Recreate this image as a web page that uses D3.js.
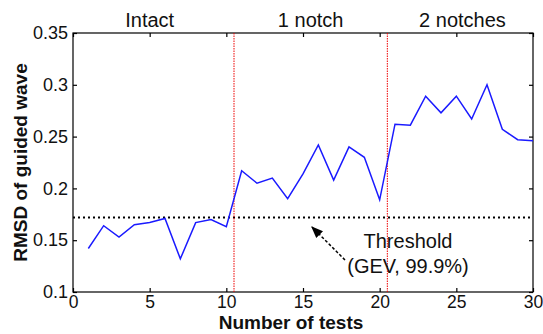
<!DOCTYPE html>
<html>
<head>
<meta charset="utf-8">
<title>RMSD of guided wave</title>
<script src="https://d3js.org/d3.v7.min.js"></script>
<style>
  body { margin: 0; background: #fff; }
  text { font-family: "Liberation Sans", Arial, sans-serif; fill: #111; }
</style>
</head>
<body>
<script>
var tests = d3.range(1, 31);
var rmsd = [0.142, 0.164, 0.153, 0.165, 0.167, 0.171, 0.132, 0.167, 0.170, 0.163,
            0.217, 0.205, 0.210, 0.190, 0.214, 0.242, 0.208, 0.240, 0.230, 0.189,
            0.262, 0.261, 0.289, 0.273, 0.289, 0.267, 0.300, 0.257, 0.247, 0.246];
var threshold = 0.172;
var splits = [10.5, 20.5];
var stages = [{name: "Intact", x: 5}, {name: "1 notch", x: 15.5}, {name: "2 notches", x: 25.4}];
var xTicks = [0, 5, 10, 15, 20, 25, 30];
var yTicks = [0.1, 0.15, 0.2, 0.25, 0.3, 0.35];

var width = 543, height = 334;
var margin = {left: 73, right: 10, top: 33, bottom: 42};

var svg = d3.select("body").append("svg")
    .attr("width", width)
    .attr("height", height);

var x = d3.scaleLinear().domain([0, 30]).range([margin.left, width - margin.right]);
var y = d3.scaleLinear().domain([0.1, 0.35]).range([height - margin.bottom, margin.top]);

// box
svg.append("rect")
    .attr("x", x(0)).attr("y", y(0.35))
    .attr("width", x(30) - x(0)).attr("height", y(0.1) - y(0.35))
    .attr("fill", "none").attr("stroke", "#000").attr("stroke-width", 1.2);

// axes, ticks inward
var fmt = function(d) { return d3.format("")(+d.toFixed(2)); };
svg.append("g")
    .attr("class", "xaxis")
    .attr("transform", "translate(0," + y(0.1) + ")")
    .call(d3.axisBottom(x).tickValues(xTicks).tickSize(-4).tickPadding(4))
    .call(function(g) { g.select(".domain").remove(); });
svg.append("g")
    .attr("transform", "translate(0," + y(0.35) + ")")
    .call(d3.axisTop(x).tickValues(xTicks).tickSize(-4).tickFormat(""))
    .call(function(g) { g.select(".domain").remove(); });
svg.append("g")
    .attr("class", "yaxis")
    .attr("transform", "translate(" + x(0) + ",0)")
    .call(d3.axisLeft(y).tickValues(yTicks).tickSize(-4).tickPadding(5).tickFormat(fmt))
    .call(function(g) { g.select(".domain").remove(); });
svg.append("g")
    .attr("transform", "translate(" + x(30) + ",0)")
    .call(d3.axisRight(y).tickValues(yTicks).tickSize(-4).tickFormat(""))
    .call(function(g) { g.select(".domain").remove(); });

svg.selectAll(".tick line").attr("stroke", "#000").attr("stroke-width", 1.2);
svg.selectAll(".yaxis .tick text").attr("font-size", 18).attr("fill", "#111");
svg.selectAll(".xaxis .tick text").attr("font-size", 17.5).attr("fill", "#111");

// threshold
svg.append("line")
    .attr("x1", x(0)).attr("x2", x(30))
    .attr("y1", y(threshold)).attr("y2", y(threshold))
    .attr("stroke", "#000").attr("stroke-width", 2)
    .attr("stroke-dasharray", "2,3");

// split lines
svg.selectAll("line.split")
    .data(splits)
    .enter().append("line")
    .attr("class", "split")
    .attr("x1", function(d) { return x(d); }).attr("x2", function(d) { return x(d); })
    .attr("y1", y(0.35)).attr("y2", y(0.1))
    .attr("stroke", "#e00").attr("stroke-width", 1)
    .attr("stroke-dasharray", "1.5,1");

// data line
var line = d3.line()
    .x(function(d, i) { return x(tests[i]); })
    .y(function(d) { return y(d); });
svg.append("path")
    .datum(rmsd)
    .attr("d", line)
    .attr("fill", "none")
    .attr("stroke", "#1a1aff")
    .attr("stroke-width", 1.5);

// stage labels
svg.selectAll("text.stage")
    .data(stages)
    .enter().append("text")
    .attr("class", "stage")
    .attr("x", function(d) { return x(d.x); })
    .attr("y", 27)
    .attr("text-anchor", "middle")
    .attr("font-size", 20)
    .text(function(d) { return d.name; });

// arrow
svg.append("defs").append("marker")
    .attr("id", "head")
    .attr("viewBox", "0 0 10 10")
    .attr("refX", 9).attr("refY", 5)
    .attr("markerWidth", 8).attr("markerHeight", 8)
    .attr("orient", "auto")
    .append("path")
    .attr("d", "M0,1 L10,5 L0,9 Z")
    .attr("fill", "#000");
svg.append("line")
    .attr("x1", 345).attr("y1", 260)
    .attr("x2", 312).attr("y2", 227)
    .attr("stroke", "#000").attr("stroke-width", 1.5)
    .attr("stroke-dasharray", "3,2")
    .attr("marker-end", "url(#head)");

svg.append("text")
    .attr("x", 408).attr("y", 248)
    .attr("text-anchor", "middle").attr("font-size", 20)
    .text("Threshold");
svg.append("text")
    .attr("x", 408).attr("y", 273)
    .attr("text-anchor", "middle").attr("font-size", 20)
    .text("(GEV, 99.9%)");

// axis labels
svg.append("text")
    .attr("x", 291).attr("y", 329)
    .attr("text-anchor", "middle")
    .attr("font-size", 19).attr("font-weight", "bold")
    .text("Number of tests");
svg.append("text")
    .attr("transform", "translate(27," + ((y(0.1) + y(0.35)) / 2) + ") rotate(-90)")
    .attr("text-anchor", "middle")
    .attr("font-size", 19).attr("font-weight", "bold")
    .text("RMSD of guided wave");
</script>
</body>
</html>
